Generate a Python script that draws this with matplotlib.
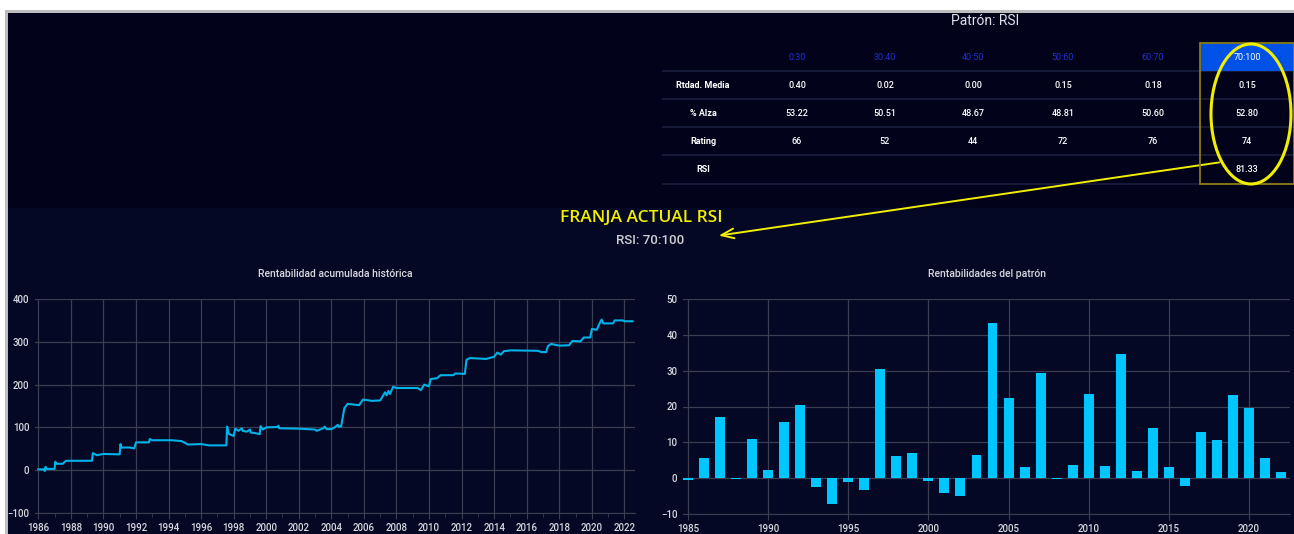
import matplotlib
matplotlib.use("Agg")
import matplotlib.pyplot as plt
from matplotlib.patches import Rectangle, Ellipse

plt.rcParams['font.family'] = ['Roboto', 'DejaVu Sans']

# ---------------- data ----------------
table_cols = ["0:30", "30:40", "40:50", "50:60", "60:70", "70:100"]
row_labels = ["Rtdad. Media", "% Alza", "Rating", "RSI"]
rtdad_media = ["0.40", "0.02", "0.00", "0.15", "0.18", "0.15"]
pct_alza = ["53.22", "50.51", "48.67", "48.81", "50.60", "52.80"]
rating = ["66", "52", "44", "72", "76", "74"]
rsi_row = ["", "", "", "", "", "81.33"]

cum_x = [1986.0, 1986.35, 1986.4, 1986.45, 1986.5, 1986.55, 1987.0, 1987.05, 1987.1, 1987.5, 1987.7,
         1989.3, 1989.35, 1989.6, 1990.0, 1991.0, 1991.05, 1991.1, 1991.6, 1991.9, 1992.0, 1992.8,
         1992.85, 1993.0, 1994.2, 1994.8, 1995.2, 1996.0, 1996.5, 1997.55, 1997.6, 1997.7, 1998.0,
         1998.1, 1998.3, 1998.5, 1998.55, 1998.8, 1999.0, 1999.05, 1999.3, 1999.6, 1999.65, 1999.8,
         2000.0, 2000.7, 2000.75, 2000.8, 2002.0, 2003.0, 2003.1, 2003.5, 2003.6, 2003.7, 2004.0,
         2004.2, 2004.4, 2004.45, 2004.6, 2004.8, 2005.0, 2005.7, 2005.95, 2006.5, 2007.0, 2007.3,
         2007.4, 2007.5, 2007.6, 2007.8, 2008.0, 2009.3, 2009.5, 2009.7, 2010.0, 2010.1, 2010.5,
         2010.7, 2011.5, 2011.6, 2012.2, 2012.3, 2012.5, 2013.5, 2013.7, 2014.0, 2014.2, 2014.4,
         2014.6, 2015.0, 2016.7, 2016.9, 2017.2, 2017.3, 2017.5, 2018.0, 2018.6, 2018.8, 2019.3,
         2019.5, 2019.9, 2020.0, 2020.3, 2020.5, 2020.6, 2020.7, 2021.3, 2021.4, 2021.9, 2022.0,
         2022.5]
cum_y = [2, 2, -2, 8, 3, 3, 3, 20, 15, 15, 22,
         22, 40, 35, 38, 37, 61, 53, 53, 51, 65, 65,
         73, 70, 70, 68, 60, 61, 58, 58, 102, 85, 80,
         97, 92, 98, 92, 90, 95, 88, 87, 84, 103, 95,
         100, 101, 104, 98, 97, 95, 92, 98, 102, 96, 96,
         100, 106, 102, 102, 145, 155, 152, 165, 162, 163, 182,
         175, 185, 178, 195, 192, 192, 187, 200, 196, 213, 215,
         222, 222, 226, 225, 258, 262, 260, 262, 265, 275, 270,
         278, 280, 279, 276, 276, 290, 295, 291, 292, 302, 301,
         310, 310, 330, 328, 345, 352, 343, 343, 350, 350, 348,
         348]

bar_years = list(range(1985, 2023))
bar_vals = [-0.5, 5.5, 17.2, -0.3, 10.8, 2.2, 15.7, 20.3, -2.5, -7.1,
            -1.2, -3.4, 30.5, 6.1, 7.0, -0.8, -4.0, -5.0, 6.5, 43.3,
            22.5, 3.2, 29.3, -0.2, 3.8, 23.5, 3.4, 34.6, 2.0, 13.9,
            3.2, -2.2, 13.0, 10.6, 23.1, 19.6, 5.5, 1.8]

left_xticks = list(range(1986, 2023, 2))
left_yticks = [-100, 0, 100, 200, 300, 400]
right_xticks = [1985, 1990, 1995, 2000, 2005, 2010, 2015, 2020]
right_yticks = [-10, 0, 10, 20, 30, 40, 50]

# ---------------- figure ----------------
W, H = 1294, 534
fig = plt.figure(figsize=(W / 100, H / 100), dpi=100)
fig.patch.set_facecolor('white')

def fx(x):
    return x / W

def fy(y):
    return 1 - y / H

# background axes
bg = fig.add_axes([0, 0, 1, 1], zorder=0)
bg.set_xlim(0, W)
bg.set_ylim(H, 0)
bg.axis('off')
bg.add_patch(Rectangle((5, 10), W, H, color='#bdbdbd', lw=0))
bg.add_patch(Rectangle((8, 13), W, 195, color='#02021a', lw=0))
bg.add_patch(Rectangle((8, 208), W, H, color='#040824', lw=0))

GRID = '#3b3e52'
TICK = '#d8d8e0'
LINE = '#00b2e8'
BAR = '#00c6ff'

def style(ax):
    ax.set_facecolor('none')
    for s in ['top', 'right', 'left']:
        ax.spines[s].set_visible(False)
    ax.spines['bottom'].set_color(GRID)
    ax.tick_params(axis='both', colors=TICK, labelsize=7, length=0, pad=4)
    ax.tick_params(axis='x', length=4, color=GRID, pad=3)
    ax.grid(True, color=GRID, lw=0.9)
    ax.set_axisbelow(True)
    for lab in ax.get_xticklabels() + ax.get_yticklabels():
        lab.set_fontweight('medium')

# left chart
axL = fig.add_axes([fx(35), fy(513), fx(635 - 35), fy(299) - fy(513)], zorder=2)
style(axL)
axL.plot(cum_x, cum_y, color=LINE, lw=1.5)
axL.set_xlim(1985.8, 2022.65)
axL.set_ylim(-100, 400)
axL.set_xticks(left_xticks)
axL.set_xticks(list(range(1987, 2023, 2)), minor=True)
axL.tick_params(axis='x', which='minor', length=3, color=GRID)
axL.set_yticks(left_yticks)
axL.set_xticklabels([str(t) for t in left_xticks])
axL.set_title("Rentabilidad acumulada histórica", color=TICK, fontsize=7.5, pad=16,
              fontweight='medium')

# right chart
axR = fig.add_axes([fx(683), fy(514), fx(1290 - 683), fy(299) - fy(514)], zorder=2)
style(axR)
axR.bar(bar_years, bar_vals, width=0.62, color=BAR)
axR.set_xlim(1984.7, 2022.55)
axR.set_ylim(-10, 50)
axR.set_xticks(right_xticks)
axR.set_yticks(right_yticks)
axR.set_title("Rentabilidades del patrón", color=TICK, fontsize=7.5, pad=16,
              fontweight='medium')

# overlay
ov = fig.add_axes([0, 0, 1, 1], zorder=5)
ov.set_xlim(0, W)
ov.set_ylim(H, 0)
ov.axis('off')
ov.patch.set_alpha(0)

ov.text(985, 21, "Patrón: RSI", color='#e0e0e6', fontsize=10, ha='center', va='center')

col_x = [797, 885, 973, 1063, 1153, 1247]
row_y = [86, 113, 141, 169]
sep_y = [71, 99, 127, 155, 184]
for y in sep_y:
    ov.plot([663, W], [y, y], color='#1b1e3e', lw=1.2)

# highlighted column
ov.add_patch(Rectangle((1200, 43), 94, 28, color='#0052e6', lw=0, zorder=3))
ov.add_patch(Rectangle((1200, 43), 94, 141, fill=False, ec='#8a7a10', lw=1.3, zorder=4))

for i, c in enumerate(table_cols):
    colr = 'white' if i == len(table_cols) - 1 else '#1f2fd0'
    ov.text(col_x[i], 57, c, color=colr, fontsize=6.5, ha='center', va='center', zorder=5)

rows = [rtdad_media, pct_alza, rating, rsi_row]
for r, (lab, vals) in enumerate(zip(row_labels, rows)):
    ov.text(703, row_y[r], lab, color='white', fontsize=6.5, ha='center', va='center',
            fontweight='bold')
    for i, v in enumerate(vals):
        ov.text(col_x[i], row_y[r], v, color='white', fontsize=6.5, ha='center', va='center',
                fontweight='medium')

ov.add_patch(Ellipse((1251, 114), 80, 140, fill=False, ec='#f2ee00', lw=2.2, zorder=6))
ov.annotate("", xy=(716, 236), xytext=(1222, 162),
            arrowprops=dict(arrowstyle='->,head_length=0.9,head_width=0.35',
                            color='#f2ee00', lw=1.4))

ov.text(641, 218, "FRANJA ACTUAL RSI", color='#f2ee00', fontsize=12.5, ha='center',
        va='center', fontweight='semibold', family=['Open Sans', 'DejaVu Sans'])
ov.text(650, 240, "RSI: 70:100", color='#d0d0d8', fontsize=9.5, ha='center', va='center',
        fontweight='medium')

fig.savefig('out.png', dpi=100, facecolor=fig.get_facecolor())
